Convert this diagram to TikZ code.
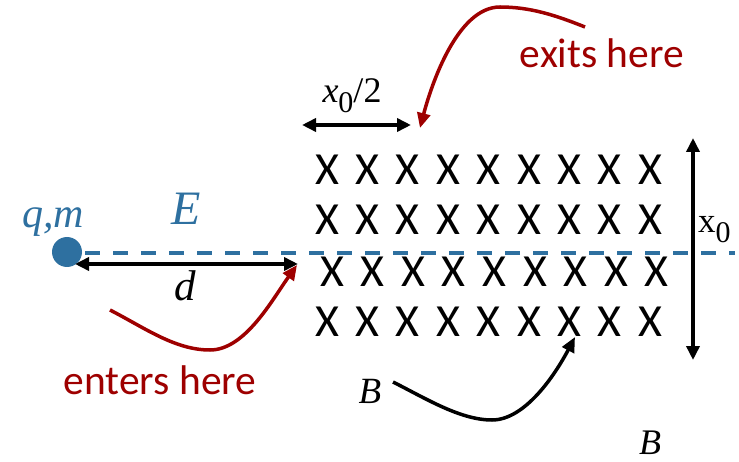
\documentclass[tikz,border=0pt]{standalone}
\usepackage{fontspec}
\setmainfont{Liberation Serif}
\newfontfamily\calib{Carlito}
\usetikzlibrary{arrows.meta}
\definecolor{darkred}{HTML}{9E0000}
\definecolor{qblue}{HTML}{2E70A0}
\newcommand\fsz[1]{\fontsize{#1}{#1}\selectfont}
\begin{document}
\begin{tikzpicture}[x=1pt,y=-1pt,
  lbl/.style={inner sep=0pt, anchor=base},
  dimarrow/.style={line width=3.5pt, {Triangle[length=14pt,width=13pt]}-{Triangle[length=14pt,width=13pt]}},
  redcurve/.style={line width=3.5pt, darkred, -{Triangle[length=15pt,width=13pt]}},
  blkcurve/.style={line width=3.5pt, black, -{Triangle[length=15pt,width=13pt]}},
  xmark/.style={inner sep=0pt, anchor=base, font=\calib\fsz{46}},
  redtext/.style={inner sep=0pt, anchor=base, text=darkred, font=\calib\fsz{41.5}}]
\useasboundingbox (0,0) rectangle (739,462);

% charge and field line
\node[circle, fill=qblue, minimum size=30pt, inner sep=0pt] (q) at (67,252) {};
\coordinate (lineend) at (735,253);
\draw[qblue, line width=4pt, dash pattern=on 15pt off 13pt] (q.east) ++(3,1) -- (lineend);
\node[lbl, text=qblue, font=\itshape\fsz{42}] (qm) at (53,228) {q,m};
\node[lbl, text=qblue, font=\itshape\fsz{48}] (E) at (186,225) {E};

% d dimension
\coordinate (dl) at (75,264);
\coordinate (dr) at (298,264);
\draw[dimarrow] (dl) -- (dr);
\node[lbl, font=\itshape\fsz{43}] (d) at (185,300.5) {d};

% x0/2 dimension
\coordinate (hl) at (302,125);
\coordinate (hr) at (411,125);
\draw[dimarrow] (hl) -- (hr);
\node[lbl, font=\fsz{36}] (half) at (352,103) {\textit{x}\raisebox{-10pt}{\fsz{30}0}/2};

% x0 vertical dimension
\coordinate (vt) at (693,138);
\coordinate (vb) at (693,360);
\draw[dimarrow] (vt) -- (vb);
\node[lbl, anchor=base west, font=\fsz{35}] (x0) at (698,233) {x\raisebox{-10pt}{\fsz{30}0}};

% field crosses
\foreach \r/\yb/\xs/\dx in {1/185/327/40.4, 2/235/327/40.4, 3/287/332/40.6, 4/337/327/40.4}{
  \foreach \c in {0,...,8}{
    \node[xmark] (x-\r-\c) at ({\xs+\c*\dx},\yb) {X};
  }
}

% exits here
\node[redtext] (exits) at (602,68) {exits here};
\coordinate (ex0) at (585,27);
\coordinate (ex1) at (500,7);
\coordinate (ex2) at (420,128);
\draw[redcurve] (ex0) .. controls (555,15) and (530,7) .. (ex1)
  .. controls (457,7) and (431,86) .. (ex2);

% enters here
\node[redtext] (enters) at (160,394) {enters here};
\coordinate (en0) at (110,310);
\coordinate (en1) at (210,350);
\coordinate (en2) at (297,265);
\draw[redcurve] (en0) .. controls (145,328) and (175,350) .. (en1)
  .. controls (245,350) and (272,300) .. (en2);

% B labels
\node[lbl, font=\itshape\fsz{37}] (B1) at (370,403) {B};
\coordinate (b0) at (393,382);
\coordinate (b1) at (492,420);
\coordinate (b2) at (575,337);
\draw[blkcurve] (b0) .. controls (425,398) and (460,420) .. (b1)
  .. controls (525,420) and (555,375) .. (b2);
\node[lbl, font=\itshape\fsz{36}] (B2) at (650,454) {B};
\end{tikzpicture}
\end{document}
